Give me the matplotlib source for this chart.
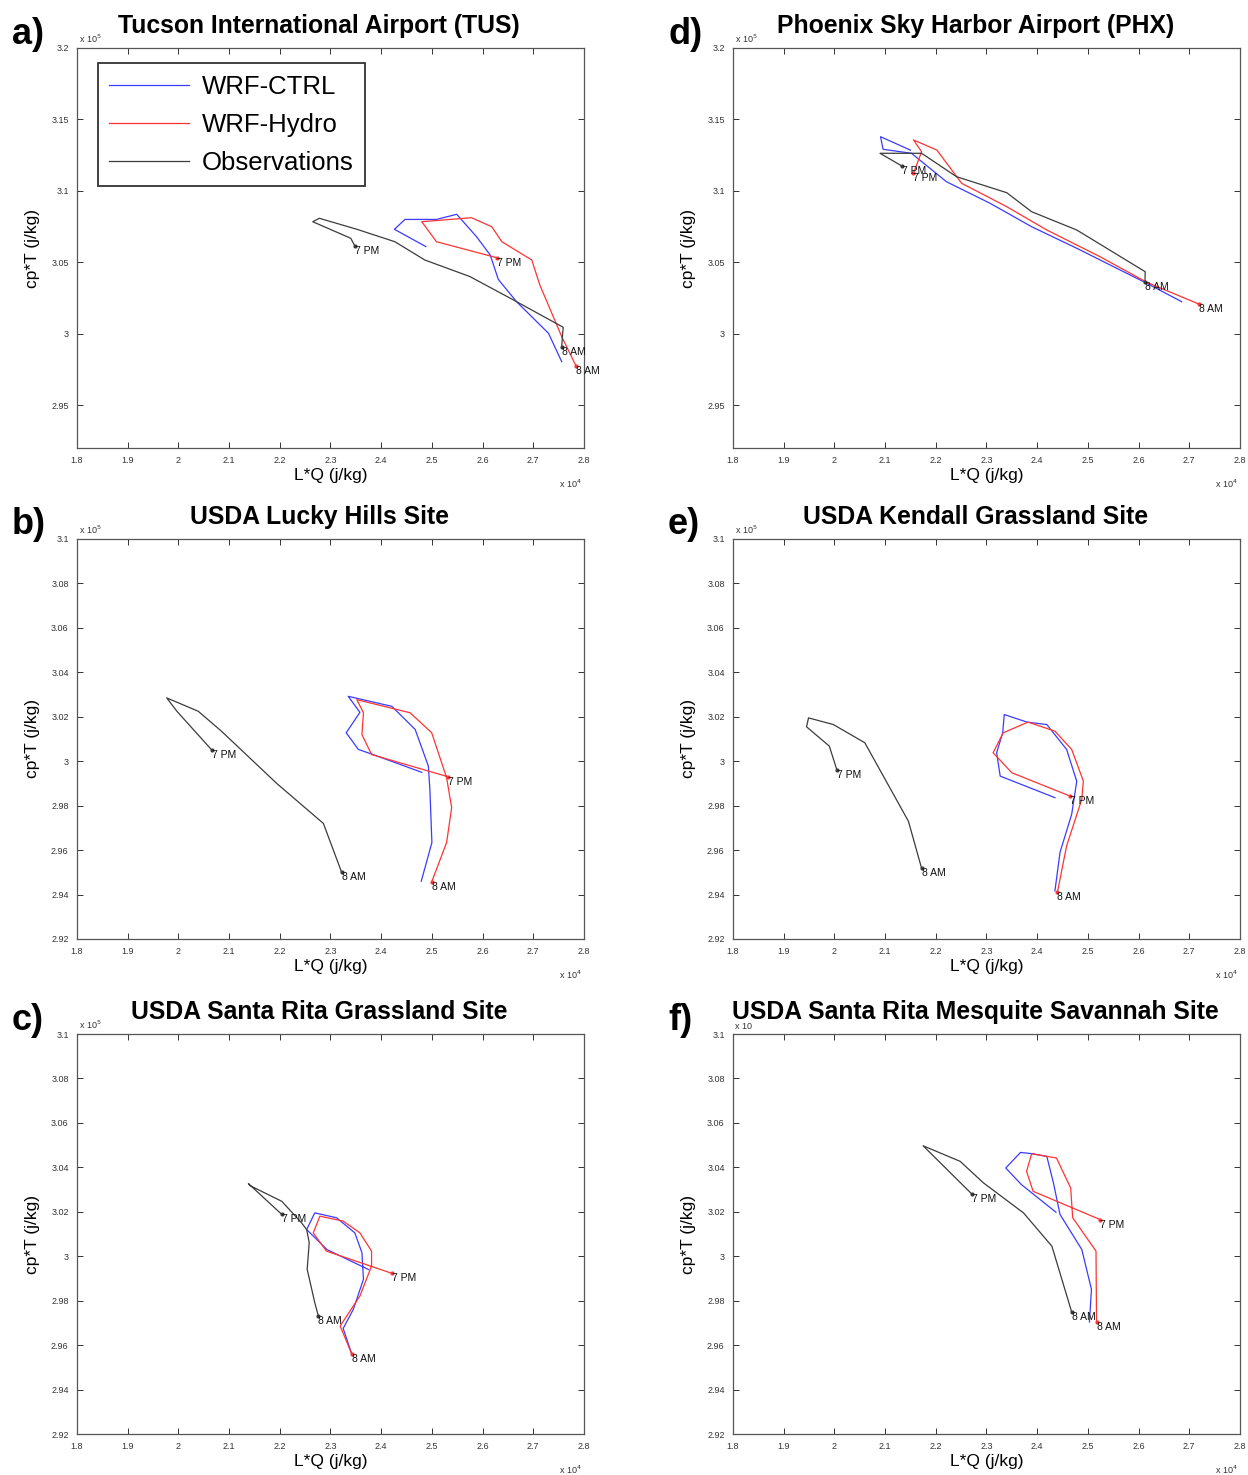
import numpy as np
import matplotlib
matplotlib.use("Agg")
import matplotlib.pyplot as plt

plt.rcParams['font.family'] = ['Liberation Sans', 'DejaVu Sans']

# x in units of 1e4 j/kg (L*Q), y in units of 1e5 j/kg (cp*T)
# series run from 8 AM (first point) to 7 PM (last point)

# a) Tucson International Airport
tus_ctrl_x = [2.756, 2.730, 2.667, 2.631, 2.615, 2.588, 2.549, 2.509, 2.447, 2.426, 2.488]
tus_ctrl_y = [2.9804, 3.0003, 3.0224, 3.038, 3.0551, 3.0679, 3.0836, 3.080, 3.080, 3.0731, 3.061]
tus_hydro_x = [2.784, 2.756, 2.713, 2.697, 2.638, 2.618, 2.578, 2.480, 2.509, 2.628]
tus_hydro_y = [2.9776, 2.998, 3.034, 3.0516, 3.0644, 3.0749, 3.0812, 3.0784, 3.0644, 3.0532]
tus_obs_x = [2.756, 2.758, 2.759, 2.661, 2.575, 2.486, 2.427, 2.352, 2.278, 2.265, 2.340, 2.348]
tus_obs_y = [2.991, 3.0003, 3.0045, 3.0236, 3.040, 3.0516, 3.0644, 3.0731, 3.0808, 3.0784, 3.0668, 3.0614]

# d) Phoenix Sky Harbor Airport
phx_ctrl_x = [2.685, 2.616, 2.478, 2.389, 2.307, 2.221, 2.152, 2.096, 2.091, 2.150]
phx_ctrl_y = [3.0224, 3.0353, 3.0598, 3.0749, 3.0913, 3.1064, 3.1263, 3.1291, 3.1379, 3.1285]
phx_hydro_x = [2.720, 2.616, 2.524, 2.419, 2.340, 2.251, 2.202, 2.156, 2.172, 2.156]
phx_hydro_y = [3.0206, 3.036, 3.0539, 3.0726, 3.0889, 3.1053, 3.1286, 3.1356, 3.1274, 3.1123]
phx_obs_x = [2.6126, 2.613, 2.478, 2.389, 2.340, 2.241, 2.172, 2.090, 2.133]
phx_obs_y = [3.036, 3.0434, 3.0726, 3.0854, 3.0987, 3.1099, 3.1263, 3.1263, 3.1174]

# b) USDA Lucky Hills
lh_ctrl_x = [2.479, 2.500, 2.496, 2.493, 2.467, 2.421, 2.335, 2.358, 2.331, 2.355, 2.384, 2.480]
lh_ctrl_y = [2.946, 2.9634, 2.9873, 2.9978, 3.0143, 3.0247, 3.0292, 3.022, 3.0128, 3.0053, 3.003, 2.995]
lh_hydro_x = [2.4996, 2.529, 2.539, 2.529, 2.4996, 2.457, 2.352, 2.365, 2.362, 2.381, 2.532]
lh_hydro_y = [2.9457, 2.9634, 2.9791, 2.9926, 3.0128, 3.0218, 3.0277, 3.0218, 3.012, 3.003, 2.993]
lh_obs_x = [2.322, 2.286, 2.194, 2.085, 2.039, 1.977, 1.997, 2.066]
lh_obs_y = [2.950, 2.972, 2.990, 3.0135, 3.0225, 3.0285, 3.0225, 3.005]

# e) USDA Kendall Grassland
kg_ctrl_x = [2.435, 2.445, 2.468, 2.478, 2.458, 2.419, 2.380, 2.335, 2.332, 2.320, 2.327, 2.435]
kg_ctrl_y = [2.9417, 2.959, 2.9761, 2.991, 3.0053, 3.0165, 3.0176, 3.021, 3.0128, 3.0038, 2.9933, 2.9836]
kg_hydro_x = [2.440, 2.458, 2.488, 2.491, 2.468, 2.435, 2.382, 2.333, 2.313, 2.350, 2.465]
kg_hydro_y = [2.9412, 2.9619, 2.9829, 2.9911, 3.0053, 3.0135, 3.0176, 3.0128, 3.0038, 2.9948, 2.9843]
kg_obs_x = [2.172, 2.146, 2.060, 1.998, 1.949, 1.945, 1.990, 2.005]
kg_obs_y = [2.9518, 2.973, 3.0083, 3.0165, 3.0195, 3.0155, 3.0068, 2.996]

# c) USDA Santa Rita Grassland
srg_ctrl_x = [2.342, 2.325, 2.345, 2.365, 2.362, 2.348, 2.312, 2.269, 2.253, 2.293, 2.375]
srg_ctrl_y = [2.956, 2.9675, 2.9761, 2.9896, 3.0016, 3.0105, 3.0173, 3.0195, 3.012, 3.003, 2.994]
srg_hydro_x = [2.342, 2.319, 2.358, 2.381, 2.381, 2.358, 2.325, 2.279, 2.266, 2.292, 2.421]
srg_hydro_y = [2.956, 2.9686, 2.9821, 2.9956, 3.0023, 3.0105, 3.0158, 3.018, 3.0105, 3.0023, 2.9923]
srg_obs_x = [2.276, 2.269, 2.254, 2.258, 2.253, 2.243, 2.204, 2.141, 2.138, 2.204]
srg_obs_y = [2.9731, 2.9791, 2.9941, 3.0061, 3.012, 3.015, 3.0247, 3.0318, 3.0327, 3.0188]

# f) USDA Santa Rita Mesquite Savannah
srm_ctrl_x = [2.503, 2.507, 2.488, 2.445, 2.432, 2.419, 2.392, 2.367, 2.338, 2.369, 2.437]
srm_ctrl_y = [2.9704, 2.9851, 3.003, 3.0188, 3.033, 3.0449, 3.0461, 3.0467, 3.0397, 3.0322, 3.0198]
srm_hydro_x = [2.517, 2.516, 2.470, 2.466, 2.438, 2.389, 2.379, 2.392, 2.524]
srm_hydro_y = [2.9704, 3.0023, 3.0173, 3.0307, 3.0442, 3.0461, 3.0382, 3.0292, 3.0165]
srm_obs_x = [2.468, 2.429, 2.373, 2.294, 2.248, 2.175, 2.271]
srm_obs_y = [2.9749, 3.0045, 3.0195, 3.033, 3.0427, 3.0497, 3.028]

titles = ["Tucson International Airport (TUS)", "USDA Lucky Hills Site",
          "USDA Santa Rita Grassland Site", "Phoenix Sky Harbor Airport (PHX)",
          "USDA Kendall Grassland Site", "USDA Santa Rita Mesquite Savannah Site"]
letters = ["a)", "b)", "c)", "d)", "e)", "f)"]
series_names = ["WRF-CTRL", "WRF-Hydro", "Observations"]
x_ticks = [1.8, 1.9, 2.0, 2.1, 2.2, 2.3, 2.4, 2.5, 2.6, 2.7, 2.8]
y_ticks_top = [2.95, 3.0, 3.05, 3.1, 3.15, 3.2]
y_ticks_low = [2.92, 2.94, 2.96, 2.98, 3.0, 3.02, 3.04, 3.06, 3.08, 3.1]

panels = [
    (tus_ctrl_x, tus_ctrl_y, tus_hydro_x, tus_hydro_y, tus_obs_x, tus_obs_y),
    (lh_ctrl_x, lh_ctrl_y, lh_hydro_x, lh_hydro_y, lh_obs_x, lh_obs_y),
    (srg_ctrl_x, srg_ctrl_y, srg_hydro_x, srg_hydro_y, srg_obs_x, srg_obs_y),
    (phx_ctrl_x, phx_ctrl_y, phx_hydro_x, phx_hydro_y, phx_obs_x, phx_obs_y),
    (kg_ctrl_x, kg_ctrl_y, kg_hydro_x, kg_hydro_y, kg_obs_x, kg_obs_y),
    (srm_ctrl_x, srm_ctrl_y, srm_hydro_x, srm_hydro_y, srm_obs_x, srm_obs_y),
]

colors = ["#3b3bff", "#ff3333", "#3c3c3c"]

W, H = 1248, 1475
fig = plt.figure(figsize=(W / 100, H / 100), dpi=100)

lefts = [77, 77, 77, 733, 733, 733]
tops = [48, 539, 1034, 48, 539, 1034]
aw, ah = 507, 400


def fmt(v):
    return "%g" % v


for i in range(6):
    L, T = lefts[i], tops[i]
    ax = fig.add_axes([L / W, 1 - (T + ah) / H, aw / W, ah / H])
    cx, cy, hx, hy, ox, oy = panels[i]
    lines = []
    for (xs, ys), c in zip([(cx, cy), (hx, hy), (ox, oy)], colors):
        ln, = ax.plot(xs, ys, color=c, lw=0.9)
        lines.append(ln)
    # time labels on hydro and obs
    for (xs, ys), c in zip([(hx, hy), (ox, oy)], colors[1:]):
        for j, lab in [(0, "8 AM"), (-1, "7 PM")]:
            ax.plot(xs[j], ys[j], 'o', ms=2, color=c)
            ax.text(xs[j], ys[j], lab, fontsize=7.5, ha='left', va='top',
                    color='#111111')
    ax.set_xlim(1.8, 2.8)
    ax.set_xticks(x_ticks)
    ax.set_xticklabels([fmt(v) for v in x_ticks])
    if i % 3 == 0:
        ax.set_ylim(2.92, 3.2)
        yt = y_ticks_top
    else:
        ax.set_ylim(2.92, 3.1)
        yt = y_ticks_low
    ax.set_yticks(yt)
    ax.set_yticklabels([fmt(v) for v in yt])
    ax.tick_params(direction='in', top=True, right=True, labelsize=6.5,
                   length=4, width=0.7, colors='#333333', pad=6)
    for sp in ax.spines.values():
        sp.set_color('#555555')
        sp.set_linewidth(0.9)
    ax.set_xlabel("L*Q (j/kg)", fontsize=12.5, labelpad=2)
    ax.set_ylabel("cp*T (j/kg)", fontsize=12.5, labelpad=8)
    ax.set_title(titles[i], fontsize=17.8, fontweight='bold', x=0.478, pad=11)
    fig.text((L - 65) / W, 1 - (T - 14) / H, letters[i], fontsize=26,
             fontweight='bold', va='center', ha='left')
    sup = "x 10$^5$" if i != 5 else "x 10"
    fig.text((L + 2) / W, 1 - (T - 3) / H, sup, fontsize=6.5, ha='left',
             va='bottom', color='#333333')
    fig.text((L + aw - 2) / W, 1 - (T + ah + 36) / H, "x 10$^4$", fontsize=6.5,
             ha='right', va='center', color='#333333')
    if i == 0:
        leg = ax.legend(lines, series_names, loc='upper left',
                        bbox_to_anchor=(0.041, 0.9625), borderaxespad=0,
                        fontsize=18.5, handlelength=3.1, frameon=True,
                        fancybox=False, labelspacing=0.55, borderpad=0.45,
                        handletextpad=0.5)
        leg.get_frame().set_edgecolor('black')
        leg.get_frame().set_linewidth(1.3)

fig.savefig("out.png", dpi=100)
